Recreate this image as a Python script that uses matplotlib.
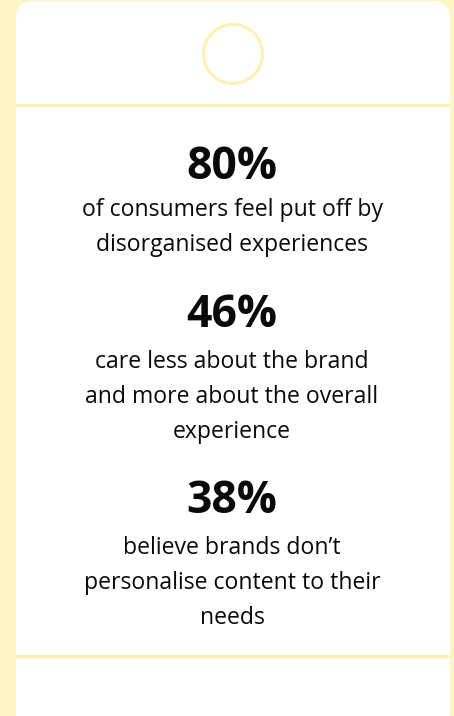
import matplotlib
matplotlib.use("Agg")
import matplotlib.pyplot as plt
from matplotlib.patches import FancyBboxPatch, Circle, Rectangle

# stat values and their caption lines
percentages = [80, 46, 38]
captions = [
    ["of consumers feel put off by", "disorganised experiences"],
    ["care less about the brand", "and more about the overall", "experience"],
    ["believe brands don\u2019t", "personalise content to their", "needs"],
]

W, H = 454, 716
BG = "#fff5c4"
LINE = "#fff1b3"
INK = "#0a0a0a"

fig = plt.figure(figsize=(W / 100, H / 100), dpi=100)
fig.patch.set_facecolor(BG)
ax = fig.add_axes([0, 0, 1, 1])
ax.set_xlim(0, W)
ax.set_ylim(H, 0)
ax.axis("off")

# white card
card = FancyBboxPatch((16, 1), 434, 730, boxstyle="round,pad=0,rounding_size=17",
                      facecolor="white", edgecolor="none", zorder=1)
ax.add_patch(card)

# top icon circle + dividers
ax.add_patch(Circle((233, 54), 29.5, facecolor="none", edgecolor=LINE, lw=2.2, zorder=2))
ax.add_patch(Rectangle((16, 104), 434, 3, facecolor=LINE, edgecolor="none", zorder=2))
ax.add_patch(Rectangle((16, 655), 434, 2.5, facecolor=LINE, edgecolor="none", zorder=2))

cx = 232
num_base = [179, 327, 513]  # baseline of the big numbers
first_line = [216, 368, 554]
spacing = 35

for pct, lines, nb, fl in zip(percentages, captions, num_base, first_line):
    ax.text(cx, nb, f"{pct}%", ha="center", va="baseline", fontsize=32,
            fontweight="bold", family="Open Sans", color=INK, zorder=3)
    for i, line in enumerate(lines):
        ax.text(cx, fl + i * spacing, line, ha="center", va="baseline", fontsize=16.6,
                family="Open Sans", color=INK, zorder=3)

fig.savefig("out.png", dpi=100, facecolor=fig.get_facecolor())
